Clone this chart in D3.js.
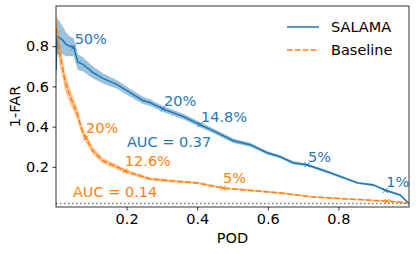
<!DOCTYPE html>
<html>
<head>
<meta charset="utf-8">
<script src="https://cdn.jsdelivr.net/npm/d3@7"></script>
<style>
  body { margin: 0; background: #fff; }
  text { font-family: "DejaVu Sans", sans-serif; }
</style>
</head>
<body>
<div id="chart"></div>
<script>
// ROC-like curves: POD (x) vs 1-FAR (y)
const salamaPod = [0.000, 0.003, 0.011, 0.019, 0.028, 0.039, 0.050, 0.062, 0.076, 0.104, 0.133, 0.172, 0.209, 0.246, 0.266, 0.303, 0.360, 0.408, 0.456, 0.502, 0.550, 0.598, 0.635, 0.672, 0.711, 0.777, 0.854, 0.899, 0.933, 0.975, 0.998];
const salamaFar = [0.68, 0.85, 0.84, 0.83, 0.81, 0.80, 0.795, 0.72, 0.71, 0.67, 0.64, 0.61, 0.57, 0.53, 0.52, 0.488, 0.45, 0.41, 0.37, 0.33, 0.31, 0.27, 0.25, 0.22, 0.21, 0.17, 0.12, 0.11, 0.083, 0.06, 0.02];
const salamaSpread = [0.09, 0.09, 0.08, 0.07, 0.06, 0.05, 0.045, 0.04, 0.035, 0.03, 0.025, 0.022, 0.02, 0.018, 0.016, 0.015, 0.014, 0.013, 0.012, 0.011, 0.01, 0.009, 0.008, 0.008, 0.007, 0.007, 0.006, 0.006, 0.005, 0.005, 0.005];

const basePod = [0.001, 0.005, 0.011, 0.019, 0.025, 0.034, 0.045, 0.059, 0.076, 0.085, 0.104, 0.133, 0.172, 0.195, 0.229, 0.266, 0.323, 0.399, 0.473, 0.635, 0.729, 0.825, 0.938, 0.998];
const baseFar = [0.89, 0.83, 0.76, 0.69, 0.63, 0.58, 0.53, 0.47, 0.37, 0.343, 0.28, 0.23, 0.20, 0.18, 0.16, 0.14, 0.13, 0.12, 0.094, 0.07, 0.05, 0.04, 0.029, 0.02];
const baseSpread = [0.08, 0.07, 0.06, 0.05, 0.045, 0.04, 0.035, 0.03, 0.025, 0.022, 0.018, 0.014, 0.012, 0.01, 0.009, 0.008, 0.007, 0.006, 0.005, 0.005, 0.004, 0.004, 0.004, 0.004];

// threshold markers and their labels
const salamaMarkPod = [0.05, 0.303, 0.408, 0.711, 0.933];
const salamaMarkFar = [0.795, 0.488, 0.41, 0.21, 0.083];
const salamaMarkText = ["50%", "20%", "14.8%", "5%", "1%"];
const baseMarkPod = [0.085, 0.195, 0.473, 0.938];
const baseMarkFar = [0.343, 0.18, 0.094, 0.029];
const baseMarkText = ["20%", "12.6%", "5%"];

const aucText = ["AUC = 0.37", "AUC = 0.14"];
const aucPos = [[0.201, 0.30], [0.048, 0.05]];
const chanceLevel = 0.018;

const xTicks = [0.2, 0.4, 0.6, 0.8];
const yTicks = [0.2, 0.4, 0.6, 0.8];
const seriesNames = ["SALAMA", "Baseline"];

const blue = "#1f77b4", orange = "#ff7f0e";

const W = 416, H = 254;
const margin = {top: 6, right: 7, bottom: 47, left: 56};

const svg = d3.select("#chart").append("svg")
    .attr("width", W).attr("height", H);

const x = d3.scaleLinear().domain([0, 1]).range([margin.left, W - margin.right]);
const y = d3.scaleLinear().domain([0, 1]).range([H - margin.bottom, margin.top]);

const clip = svg.append("clipPath").attr("id", "plotclip").append("rect")
    .attr("x", margin.left).attr("y", margin.top)
    .attr("width", x(1) - x(0)).attr("height", y(0) - y(1));

const plot = svg.append("g").attr("clip-path", "url(#plotclip)");

function rows(px, py, ps) {
  return px.map((v, i) => ({x: v, y: py[i], s: ps[i]}));
}
const salama = rows(salamaPod, salamaFar, salamaSpread);
const base = rows(basePod, baseFar, baseSpread);

const band = d3.area()
  .x(d => x(d.x))
  .y0(d => y(d.y - d.s))
  .y1(d => y(d.y + d.s));
const line = d3.line().x(d => x(d.x)).y(d => y(d.y));

// chance line
plot.append("line")
  .attr("x1", x(0)).attr("x2", x(1))
  .attr("y1", y(chanceLevel)).attr("y2", y(chanceLevel))
  .attr("stroke", "#808080").attr("stroke-width", 1.5)
  .attr("stroke-dasharray", "1.5,2.5");

plot.append("path").datum(salama).attr("d", band)
  .attr("fill", blue).attr("opacity", 0.45);
plot.append("path").datum(base).attr("d", band)
  .attr("fill", orange).attr("opacity", 0.45);

plot.append("path").datum(salama).attr("d", line)
  .attr("fill", "none").attr("stroke", blue).attr("stroke-width", 1.5);
plot.append("path").datum(base).attr("d", line)
  .attr("fill", "none").attr("stroke", orange).attr("stroke-width", 1.5)
  .attr("stroke-dasharray", "5.5,2.4");

function cross(g, cx, cy, col) {
  const r = 2.5;
  g.append("path")
    .attr("d", `M${cx - r},${cy - r}L${cx + r},${cy + r}M${cx - r},${cy + r}L${cx + r},${cy - r}`)
    .attr("stroke", col).attr("stroke-width", 1);
}
salamaMarkPod.forEach((p, i) => cross(plot, x(p), y(salamaMarkFar[i]), blue));
baseMarkPod.forEach((p, i) => cross(plot, x(p), y(baseMarkFar[i]), orange));

// labels
const fs = "14.5px";
salamaMarkText.forEach((t, i) => {
  svg.append("text").attr("x", x(salamaMarkPod[i]) + 1).attr("y", y(salamaMarkFar[i]) - 3)
    .attr("fill", blue).style("font-size", fs).text(t);
});
baseMarkText.forEach((t, i) => {
  svg.append("text").attr("x", x(baseMarkPod[i])).attr("y", y(baseMarkFar[i]) - 5)
    .attr("fill", orange).style("font-size", fs).text(t);
});
aucText.forEach((t, i) => {
  svg.append("text").attr("x", x(aucPos[i][0])).attr("y", y(aucPos[i][1]))
    .attr("fill", i === 0 ? blue : orange).style("font-size", fs).text(t);
});

// axes
const xAxis = svg.append("g")
  .attr("transform", `translate(0,${y(0)})`)
  .call(d3.axisBottom(x).tickValues(xTicks).tickSize(3.5).tickPadding(3.5).tickFormat(d3.format(".1f")));
const yAxis = svg.append("g")
  .attr("transform", `translate(${x(0)},0)`)
  .call(d3.axisLeft(y).tickValues(yTicks).tickSize(3.5).tickPadding(3.5).tickFormat(d3.format(".1f")));
[xAxis, yAxis].forEach(a => {
  a.select(".domain").remove();
  a.selectAll("text").style("font-size", fs).style("font-family", "DejaVu Sans").attr("fill", "#000");
  a.selectAll("line").attr("stroke", "#000").attr("stroke-width", 0.8);
});

// frame
svg.append("rect")
  .attr("x", x(0)).attr("y", y(1))
  .attr("width", x(1) - x(0)).attr("height", y(0) - y(1))
  .attr("fill", "none").attr("stroke", "#000").attr("stroke-width", 0.8);

svg.append("text").attr("x", (x(0) + x(1)) / 2).attr("y", 243)
  .attr("text-anchor", "middle").style("font-size", fs).text("POD");
svg.append("text")
  .attr("transform", `translate(19.5,${(y(0) + y(1)) / 2}) rotate(-90)`)
  .attr("text-anchor", "middle").style("font-size", fs).text("1-FAR");

// legend
const leg = svg.append("g");
seriesNames.forEach((n, i) => {
  const ly = 27 + i * 23;
  leg.append("line").attr("x1", 287).attr("x2", 319).attr("y1", ly).attr("y2", ly)
    .attr("stroke", i === 0 ? blue : orange).attr("stroke-width", 1.5)
    .attr("stroke-dasharray", i === 0 ? null : "5.5,2.4");
  leg.append("text").attr("x", 331).attr("y", ly + 5).style("font-size", fs).text(n);
});
</script>
</body>
</html>
